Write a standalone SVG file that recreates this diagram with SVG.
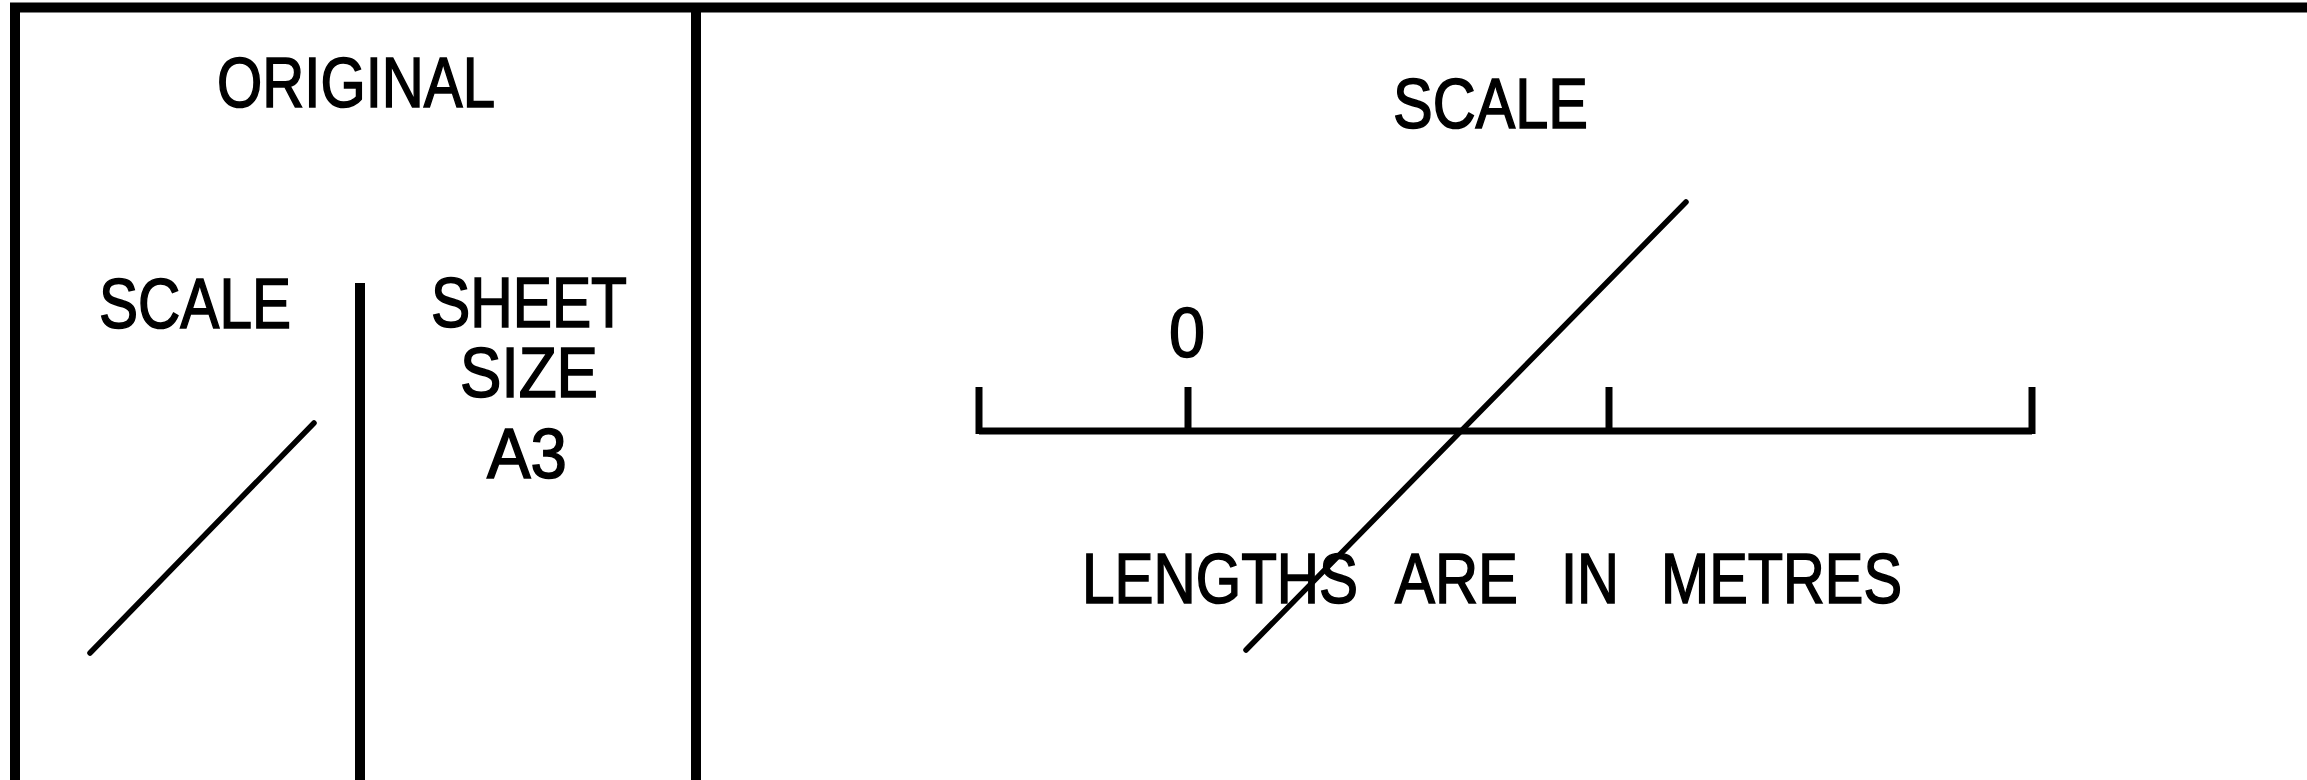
<svg xmlns="http://www.w3.org/2000/svg" width="2307" height="780" viewBox="0 0 2307 780">
<style>
.t{font-family:"Liberation Sans",Arial,sans-serif;font-size:71px;fill:#000;stroke:#000;stroke-width:1.6px;}
.ln{stroke:#000;fill:none;stroke-linecap:butt;}
.frame{stroke-width:10;}
.bar{stroke-width:7;}
.diag{stroke-width:5.5;stroke-linecap:round;}
</style>
<rect x="0" y="0" width="2307" height="780" fill="#fff"/>
<g id="frame">
<line class="ln frame" x1="10" y1="7.5" x2="2307" y2="7.5" stroke-width="8"/>
<line class="ln frame" x1="15" y1="4" x2="15" y2="780"/>
<line class="ln frame" x1="696" y1="4" x2="696" y2="780"/>
</g>
<g id="original-panel">
<text class="t" x="217" y="107" textLength="278" lengthAdjust="spacingAndGlyphs">ORIGINAL</text>
<text class="t" x="99" y="328" textLength="192" lengthAdjust="spacingAndGlyphs">SCALE</text>
<line class="ln frame" x1="360" y1="283" x2="360" y2="780" stroke-width="9"/>
<text class="t" x="431" y="327" textLength="196" lengthAdjust="spacingAndGlyphs">SHEET</text>
<text class="t" x="460" y="397" textLength="138" lengthAdjust="spacingAndGlyphs">SIZE</text>
<text class="t" x="487" y="478" textLength="80" lengthAdjust="spacingAndGlyphs">A3</text>
<line class="ln diag" x1="90" y1="653" x2="314" y2="423"/>
</g>
<g id="scale-panel">
<text class="t" x="1393" y="128" textLength="195" lengthAdjust="spacingAndGlyphs">SCALE</text>
<text class="t" x="1169" y="357" textLength="36" lengthAdjust="spacingAndGlyphs">0</text>
<g id="scale-bar">
<line class="ln bar" x1="979" y1="431" x2="2032" y2="431"/>
<line class="ln bar" x1="979" y1="387" x2="979" y2="434"/>
<line class="ln bar" x1="1188" y1="387" x2="1188" y2="434"/>
<line class="ln bar" x1="1609" y1="387" x2="1609" y2="434"/>
<line class="ln bar" x1="2032" y1="387" x2="2032" y2="434"/>
</g>
<line class="ln diag" x1="1246" y1="650" x2="1686" y2="202" stroke-width="6"/>
<text class="t" y="603"><tspan x="1082" textLength="276" lengthAdjust="spacingAndGlyphs">LENGTHS</tspan> <tspan x="1395" textLength="123" lengthAdjust="spacingAndGlyphs">ARE</tspan> <tspan x="1561" textLength="58" lengthAdjust="spacingAndGlyphs">IN</tspan> <tspan x="1661" textLength="241" lengthAdjust="spacingAndGlyphs">METRES</tspan></text>
</g>
</svg>
